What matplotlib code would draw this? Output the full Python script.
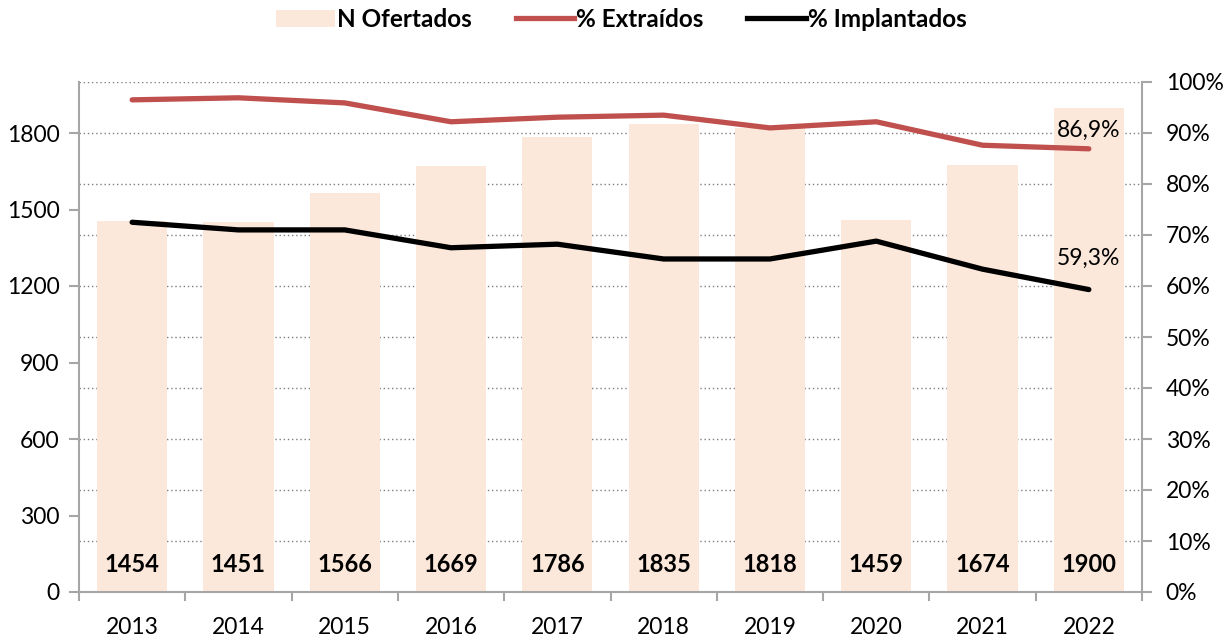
import matplotlib
matplotlib.use("Agg")
import matplotlib.pyplot as plt
from matplotlib.patches import Patch
from matplotlib.lines import Line2D
from matplotlib.ticker import FuncFormatter

plt.rcParams['font.family'] = ['Lato', 'DejaVu Sans']

years = ["2013", "2014", "2015", "2016", "2017", "2018", "2019", "2020", "2021", "2022"]
ofertados = [1454, 1451, 1566, 1669, 1786, 1835, 1818, 1459, 1674, 1900]
extraidos = [96.5, 96.9, 95.9, 92.2, 93.1, 93.5, 91.0, 92.2, 87.6, 86.9]
implantados = [72.5, 71.0, 71.0, 67.5, 68.2, 65.3, 65.3, 68.8, 63.3, 59.3]

bar_color = "#FCE8DA"
red = "#C0504D"
gray = "#A6A6A6"

fig = plt.figure(figsize=(12.26, 6.43), dpi=100)
ax = fig.add_axes([79/1226, 51/643, (1142-79)/1226, (592-82)/643])
x = list(range(len(years)))
ax.bar(x, ofertados, width=0.66, color=bar_color, zorder=2)
ax.set_xlim(-0.5, len(years) - 0.5)
ax.set_ylim(0, 2000)
ax.set_yticks(range(0, 2001, 300))
for g in range(200, 2001, 200):
    ax.axhline(g, color="#7F7F7F", linestyle=(0, (1, 2)), linewidth=1.0, zorder=1)

for i, v in enumerate(ofertados):
    ax.text(i, 106, str(v), ha="center", va="center", fontsize=17, fontweight="bold", zorder=3)

ax.set_xticks(x)
ax.set_xticklabels(years, fontsize=16.5)
ax.tick_params(axis="x", length=0, pad=18)
for b in [i - 0.5 for i in range(len(years) + 1)]:
    ax.plot([b, b], [0, -0.015], transform=ax.get_xaxis_transform(), clip_on=False,
            color=gray, linewidth=1.5)
ax.tick_params(axis="y", labelsize=16.5, length=7, width=1.5, color=gray, direction="out", pad=7)
for s in ["top", "right"]:
    ax.spines[s].set_visible(False)
for s in ["left", "bottom"]:
    ax.spines[s].set_color(gray)
    ax.spines[s].set_linewidth(1.5)

ax2 = ax.twinx()
ax2.set_ylim(0, 100)
ax2.set_yticks(range(0, 101, 10))
ax2.yaxis.set_major_formatter(FuncFormatter(lambda v, p: f"{int(v)}%"))
ax2.tick_params(axis="y", labelsize=16.5, length=7, width=1.5, color=gray, direction="out", pad=10)
for s in ["top", "left", "bottom"]:
    ax2.spines[s].set_visible(False)
ax2.spines["right"].set_color(gray)
ax2.spines["right"].set_linewidth(1.5)

ax2.plot(x, extraidos, color=red, linewidth=3.8, solid_capstyle="round", zorder=4)
ax2.plot(x, implantados, color="black", linewidth=3.8, solid_capstyle="round", zorder=4)

ax2.text(x[-1], extraidos[-1] + 3.6, "86,9%", ha="center", va="center", fontsize=16.5)
ax2.text(x[-1], implantados[-1] + 6.2, "59,3%", ha="center", va="center", fontsize=16.5)

handles = [Patch(facecolor=bar_color, edgecolor="none"),
           Line2D([0], [0], color=red, linewidth=3.8),
           Line2D([0], [0], color="black", linewidth=3.8)]
labels = ["N Ofertados", "% Extraídos", "% Implantados"]
leg = fig.legend(handles, labels, loc="upper center", bbox_to_anchor=(0.507, 1.022), ncol=3,
                 frameon=False, handlelength=2.4, handletextpad=0.1, columnspacing=1.8,
                 prop={"size": 17.5, "weight": "bold"})

fig.savefig("out.png", dpi=100)
